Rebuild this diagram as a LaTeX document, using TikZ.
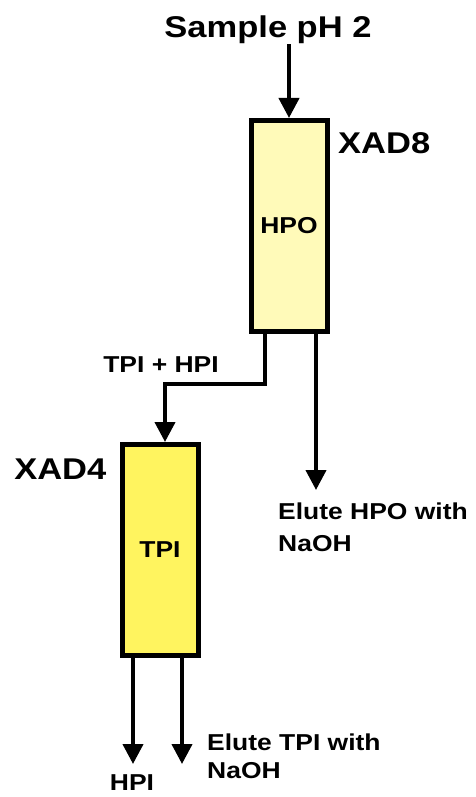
\documentclass[tikz,border=0pt]{standalone}
\usepackage{fontspec}
\setmainfont{Liberation Sans}[FakeStretch=1.15]
\usepackage{tikz}
\usetikzlibrary{arrows.meta,positioning}
\definecolor{resinpale}{HTML}{FFFAB9}
\definecolor{resinbright}{HTML}{FFF45F}

\tikzset{
  column/.style={draw,line width=5pt,inner sep=0pt,minimum width=76pt,minimum height=211pt,font=\fontsize{23}{27}\selectfont\bfseries},
  biglabel/.style={font=\fontsize{30}{36}\selectfont\bfseries,inner sep=0pt},
  smalllabel/.style={font=\fontsize{23}{28}\selectfont\bfseries,inner sep=0pt,align=left},
  flow/.style={-{Triangle[length=20pt,width=20pt]},line width=4pt}
}

\begin{document}
\begin{tikzpicture}[x=1pt,y=-1pt]
  \useasboundingbox (0,0) rectangle (476,797);

  \node[column,fill=resinpale] (xad8) at (289,226) {HPO};
  \node[column,fill=resinbright] (xad4) at (160,550) {TPI};
  \node[biglabel] (sample) at (268,30) {Sample pH 2};
  \node[biglabel,anchor=west] (xad8lbl) at (338,143) {XAD8};
  \node[biglabel,left=13pt of xad4.north west,anchor=east,yshift=-27pt] (xad4lbl) {XAD4};

  % feed into XAD8
  \draw[flow] (sample.south -| xad8.north) -- (xad8.north);

  % XAD8 outlets
  \draw[flow] ([xshift=-24]xad8.south) -- ++(0,50) -| ([xshift=5]xad4.north);
  \node[smalllabel] (tpihpi) at (161,365) {TPI + HPI};
  \coordinate (hpoout) at (316,490);
  \draw[flow] (xad8.south -| hpoout) -- (hpoout);
  \node[smalllabel,anchor=north west,font=\fontsize{23}{32}\selectfont\bfseries] (elutehpo) at (278,503) {Elute HPO with\\NaOH};

  % XAD4 outlets
  \coordinate (hpiout) at (133,764);
  \coordinate (tpiout) at (182,764);
  \draw[flow] (xad4.south -| hpiout) -- (hpiout);
  \draw[flow] (xad4.south -| tpiout) -- (tpiout);
  \node[smalllabel] (hpi) at (132,783) {HPI};
  \node[smalllabel,anchor=north west] (elutetpi) at (207,734) {Elute TPI with\\NaOH};
\end{tikzpicture}
\end{document}
